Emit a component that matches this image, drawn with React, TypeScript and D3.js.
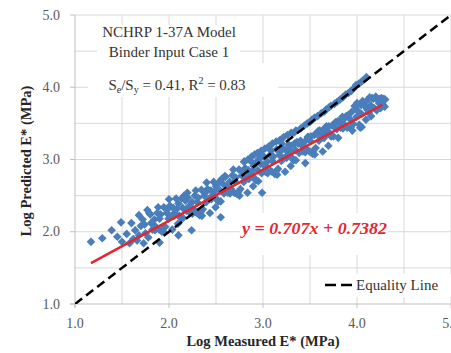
import React from "react";
import * as d3 from "d3";

// ---------- data ----------
const xTicks = [1, 2, 3, 4, 5];
const yTicks = [1, 2, 3, 4, 5];
const gridValues = [1.5, 2, 2.5, 3, 3.5, 4, 4.5, 5];

const lowPoints: [number, number][] = [
  [1.17, 1.86], [1.29, 1.91], [1.39, 2.02], [1.49, 2.13], [1.5, 1.86], [1.45, 1.93],
  [1.55, 1.97], [1.6, 2.12], [1.58, 1.84], [1.64, 2.02], [1.68, 2.23], [1.7, 2.08],
  [1.73, 1.84], [1.75, 1.98], [1.77, 2.3], [1.62, 1.9], [1.72, 2.17], [1.78, 1.92],
  [1.66, 1.88], [1.79, 2.26], [1.74, 2.1], [1.68, 1.95],
];

const bandPoints: [number, number][] = [
  [1.8, 2.24], [1.85, 2.02], [1.9, 2.18], [1.95, 1.99], [2.0, 2.45], [2.05, 2.22],
  [2.1, 2.39], [2.15, 2.19], [2.2, 2.47], [2.25, 2.25], [2.3, 2.41], [2.35, 2.22],
  [2.4, 2.68], [2.45, 2.45], [2.5, 2.63], [2.55, 2.42], [2.6, 2.76], [2.65, 2.53],
  [2.7, 2.7], [2.75, 2.5], [2.8, 2.97], [2.85, 2.73], [2.9, 2.91], [2.95, 2.7],
  [3.0, 3.04], [3.05, 2.81], [3.1, 2.98], [3.15, 2.79], [3.2, 3.22], [3.25, 3.02],
  [3.3, 3.19], [3.35, 2.99], [3.4, 3.26], [3.45, 3.1], [3.5, 3.26], [3.55, 3.07],
  [3.6, 3.4], [3.65, 3.3], [3.7, 3.46], [3.75, 3.32], [3.8, 3.52], [3.85, 3.43],
  [3.9, 3.6], [3.95, 3.4], [4.0, 3.78], [4.05, 3.63], [4.1, 3.81], [4.15, 3.6],
  [4.2, 3.87], [4.25, 3.71], [4.3, 3.83],
  [1.825, 2.03], [1.875, 2.26], [1.925, 2.0], [1.975, 2.26], [2.025, 2.22], [2.075, 2.46],
  [2.125, 2.19], [2.175, 2.43], [2.225, 2.26], [2.275, 2.5], [2.325, 2.23], [2.375, 2.5],
  [2.425, 2.45], [2.475, 2.69], [2.525, 2.42], [2.575, 2.66], [2.625, 2.54], [2.675, 2.78],
  [2.725, 2.52], [2.775, 2.78], [2.825, 2.74], [2.875, 2.97], [2.925, 2.71], [2.975, 2.94],
  [3.025, 2.83], [3.075, 3.06], [3.125, 2.8], [3.175, 3.06], [3.225, 3.02], [3.275, 3.2],
  [3.325, 2.99], [3.375, 3.22], [3.425, 3.11], [3.475, 3.31], [3.525, 3.08], [3.575, 3.35],
  [3.625, 3.3], [3.675, 3.46], [3.725, 3.32], [3.775, 3.52], [3.825, 3.44], [3.875, 3.58],
  [3.925, 3.56], [3.975, 3.74], [4.025, 3.48], [4.075, 3.75], [4.125, 3.65], [4.175, 3.84],
  [4.225, 3.83], [4.275, 3.76],
  [1.81, 2.12], [1.86, 2.07], [1.91, 2.24], [1.96, 2.07], [2.01, 2.36], [2.06, 2.26],
  [2.11, 2.22], [2.16, 2.5], [2.21, 2.35], [2.26, 2.31], [2.31, 2.47], [2.36, 2.31],
  [2.41, 2.59], [2.46, 2.5], [2.51, 2.45], [2.56, 2.73], [2.61, 2.63], [2.66, 2.59],
  [2.71, 2.75], [2.76, 2.59], [2.81, 2.88], [2.86, 2.78], [2.91, 2.74], [2.96, 3.01],
  [3.01, 2.92], [3.06, 2.87], [3.11, 3.04], [3.16, 2.87], [3.21, 3.16], [3.26, 3.06],
  [3.31, 3.02], [3.36, 3.24], [3.41, 3.2], [3.46, 3.15], [3.51, 3.32], [3.56, 3.16],
  [3.61, 3.39], [3.66, 3.35], [3.71, 3.35], [3.76, 3.5], [3.81, 3.53], [3.86, 3.49],
  [3.91, 3.62], [3.96, 3.49], [4.01, 3.67], [4.06, 3.81], [4.11, 3.69], [4.16, 3.85],
  [4.21, 3.68], [4.26, 3.85],
  [1.835, 2.09], [1.885, 2.34], [1.935, 2.04], [1.985, 2.31], [2.035, 2.03], [2.085, 2.32],
  [2.135, 2.46], [2.185, 2.29], [2.235, 2.32], [2.285, 2.57], [2.335, 2.27], [2.385, 2.54],
  [2.435, 2.26], [2.485, 2.56], [2.535, 2.69], [2.585, 2.53], [2.635, 2.6], [2.685, 2.86],
  [2.735, 2.55], [2.785, 2.83], [2.835, 2.54], [2.885, 2.84], [2.935, 2.97], [2.985, 2.81],
  [3.035, 2.88], [3.085, 3.12], [3.135, 2.83], [3.185, 3.11], [3.235, 2.83], [3.285, 3.12],
  [3.335, 3.22], [3.385, 3.09], [3.435, 3.17], [3.485, 3.31], [3.535, 3.12], [3.585, 3.39],
  [3.635, 3.11], [3.685, 3.4], [3.735, 3.47], [3.785, 3.42], [3.835, 3.5], [3.885, 3.6],
  [3.935, 3.45], [3.985, 3.73], [4.035, 3.44], [4.085, 3.74], [4.135, 3.86], [4.185, 3.71],
  [4.235, 3.78], [4.285, 3.84],
  [1.845, 2.17], [1.895, 2.03], [1.945, 2.34], [1.995, 2.18], [2.045, 2.33], [2.095, 2.11],
  [2.145, 2.33], [2.195, 2.54], [2.245, 2.41], [2.295, 2.26], [2.345, 2.58], [2.395, 2.41],
  [2.445, 2.57], [2.495, 2.34], [2.545, 2.57], [2.595, 2.77], [2.645, 2.69], [2.695, 2.54],
  [2.745, 2.86], [2.795, 2.69], [2.845, 2.85], [2.895, 2.63], [2.945, 2.85], [2.995, 3.06],
  [3.045, 2.97], [3.095, 2.83], [3.145, 3.14], [3.195, 2.98], [3.245, 3.13], [3.295, 2.91],
  [3.345, 3.13], [3.395, 3.25], [3.445, 3.25], [3.495, 3.11], [3.545, 3.34], [3.595, 3.26],
  [3.645, 3.42], [3.695, 3.19], [3.745, 3.47], [3.795, 3.53], [3.845, 3.59], [3.895, 3.44],
  [3.945, 3.66], [3.995, 3.59], [4.045, 3.75], [4.095, 3.55], [4.145, 3.75], [4.195, 3.85],
  [4.245, 3.84], [4.295, 3.73],
  [2.24, 2.02], [2.55, 2.2], [2.99, 2.54], [3.45, 2.95], [1.9, 1.85], [2.1, 1.95],
  [3.8, 3.3], [4.05, 3.45],
];

const armPoints: [number, number][] = [
  [2.8, 2.97], [2.88, 3.04], [2.94, 3.09], [3.02, 3.15], [3.1, 3.22], [3.18, 3.27],
  [3.22, 3.31], [3.3, 3.37], [3.35, 3.4], [3.4, 3.43], [3.47, 3.5], [3.52, 3.55],
  [3.58, 3.6], [3.62, 3.64], [3.67, 3.69], [3.72, 3.74], [3.79, 3.8], [3.85, 3.86],
  [3.91, 3.92], [3.96, 3.98], [3.99, 4.03], [4.05, 4.08], [4.07, 4.1], [4.1, 4.14],
  [2.84, 3.0], [2.91, 3.07], [2.98, 3.12], [3.06, 3.18], [3.14, 3.25], [3.26, 3.34],
  [3.33, 3.37], [3.44, 3.47], [3.5, 3.52], [3.55, 3.58], [3.65, 3.66], [3.7, 3.72],
  [3.76, 3.77], [3.82, 3.83], [3.88, 3.9], [3.94, 3.95], [4.02, 4.05],
];

const regSlope = 0.707;
const regIntercept = 0.7382;
const regRange = [1.17, 4.27];
const equalityRange = [1, 5];

const annotationLines = ["NCHRP 1-37A Model", "Binder Input Case 1"];
const equationText = "y = 0.707x + 0.7382";
const legendLabel = "Equality Line";
const xTitle = "Log Measured E* (MPa)";
const yTitle = "Log Predicted E* (MPa)";

// ---------- chart ----------
const W = 451;
const H = 353;
const FONT = "'Liberation Serif', 'Times New Roman', serif";

export default function App() {
  const x = d3.scaleLinear().domain([1, 5]).range([75, 451]);
  const y = d3.scaleLinear().domain([1, 5]).range([304, 15]);
  const allPoints = [...lowPoints, ...bandPoints, ...armPoints];
  const r = 4.3;
  const diamond = `M0,${-r}L${r},0L0,${r}L${-r},0Z`;

  const regLine = d3
    .line<number>()
    .x((d) => x(d))
    .y((d) => y(regSlope * d + regIntercept))(regRange);
  const eqLine = d3
    .line<number>()
    .x((d) => x(d))
    .y((d) => y(d))(equalityRange);

  return (
    <svg
      width={W}
      height={H}
      style={{ position: "absolute", left: 0, top: 0, background: "#fff" }}
      fontFamily={FONT}
    >
      <defs>
        <clipPath id="plot">
          <rect x={x(1)} y={y(5)} width={x(5) - x(1)} height={y(1) - y(5)} />
        </clipPath>
      </defs>
      {/* grid */}
      {gridValues.map((v) => (
        <line key={"gx" + v} x1={x(v)} x2={x(v)} y1={y(1)} y2={y(5)} stroke="#d9d9d9" strokeWidth={1} />
      ))}
      {gridValues.map((v) => (
        <line key={"gy" + v} x1={x(1)} x2={x(5)} y1={y(v)} y2={y(v)} stroke="#d9d9d9" strokeWidth={1} />
      ))}
      {/* axes */}
      <line x1={x(1)} x2={x(1)} y1={y(1) + 4} y2={y(5)} stroke="#bfbfbf" />
      <line x1={x(1) - 5} x2={x(5)} y1={y(1)} y2={y(1)} stroke="#bfbfbf" />
      {yTicks.map((v) => (
        <line key={"ty" + v} x1={x(1) - 5} x2={x(1)} y1={y(v)} y2={y(v)} stroke="#bfbfbf" />
      ))}
      {xTicks.map((v) => (
        <line key={"tx" + v} x1={x(v)} x2={x(v)} y1={y(1)} y2={y(1) + 4} stroke="#bfbfbf" />
      ))}
      {yTicks.map((v) => (
        <text key={"ly" + v} x={x(1) - 15} y={y(v) + 4.5} textAnchor="end" fontSize={14} fill="#595959">
          {v.toFixed(1)}
        </text>
      ))}
      {xTicks.map((v) => (
        <text key={"lx" + v} x={x(v)} y={y(1) + 24} textAnchor="middle" fontSize={14} fill="#595959">
          {v.toFixed(1)}
        </text>
      ))}
      {/* annotation boxes */}
      <rect x={97} y={25} width={143} height={38} fill="#fff" />
      <rect x={88} y={63} width={190} height={34} fill="#fff" />
      <rect x={240} y={213} width={147} height={42} fill="#fff" />
      <rect x={318} y={274} width={133} height={23} fill="#fff" />

      {/* points */}
      <g fill="#4a7ebb">
        {allPoints.map((p, i) => (
          <path key={i} d={diamond} transform={`translate(${x(p[0])},${y(p[1])})`} />
        ))}
      </g>
      {/* equality line */}
      <path d={eqLine ?? ""} stroke="#000" strokeWidth={2.5} strokeDasharray="9,5" fill="none" clipPath="url(#plot)" />
      {/* regression */}
      <path d={regLine ?? ""} stroke="#e3262f" strokeWidth={2.5} fill="none" />

      {/* annotation text */}
      {annotationLines.map((t, i) => (
        <text key={t} x={169} y={37 + i * 20} textAnchor="middle" fontSize={15} fill="#333">
          {t}
        </text>
      ))}
      <text x={177} y={90} textAnchor="middle" fontSize={15} fill="#333">
        <tspan>S</tspan>
        <tspan fontSize={10} dy={3}>e</tspan>
        <tspan dy={-3}>/S</tspan>
        <tspan fontSize={10} dy={3}>y</tspan>
        <tspan dy={-3}> = 0.41, R</tspan>
        <tspan fontSize={10} dy={-6}>2</tspan>
        <tspan dy={6}> = 0.83</tspan>
      </text>
      <text
        x={242}
        y={234}
        fontSize={16}
        fontWeight="bold"
        fontStyle="italic"
        fill="#e3262f"
        textLength={145}
        lengthAdjust="spacingAndGlyphs"
      >
        {equationText}
      </text>
      {/* legend */}
      <line x1={325} x2={353} y1={285} y2={285} stroke="#000" strokeWidth={2.5} strokeDasharray="11,5" />
      <text x={356} y={290} fontSize={15} fill="#333">
        {legendLabel}
      </text>
      {/* axis titles */}
      <text x={263} y={346} textAnchor="middle" fontSize={14.5} fontWeight="bold" fill="#262626">
        {xTitle}
      </text>
      <text
        transform={`translate(31,161) rotate(-90)`}
        textAnchor="middle"
        fontSize={14.5}
        fontWeight="bold"
        fill="#262626"
      >
        {yTitle}
      </text>
    </svg>
  );
}
